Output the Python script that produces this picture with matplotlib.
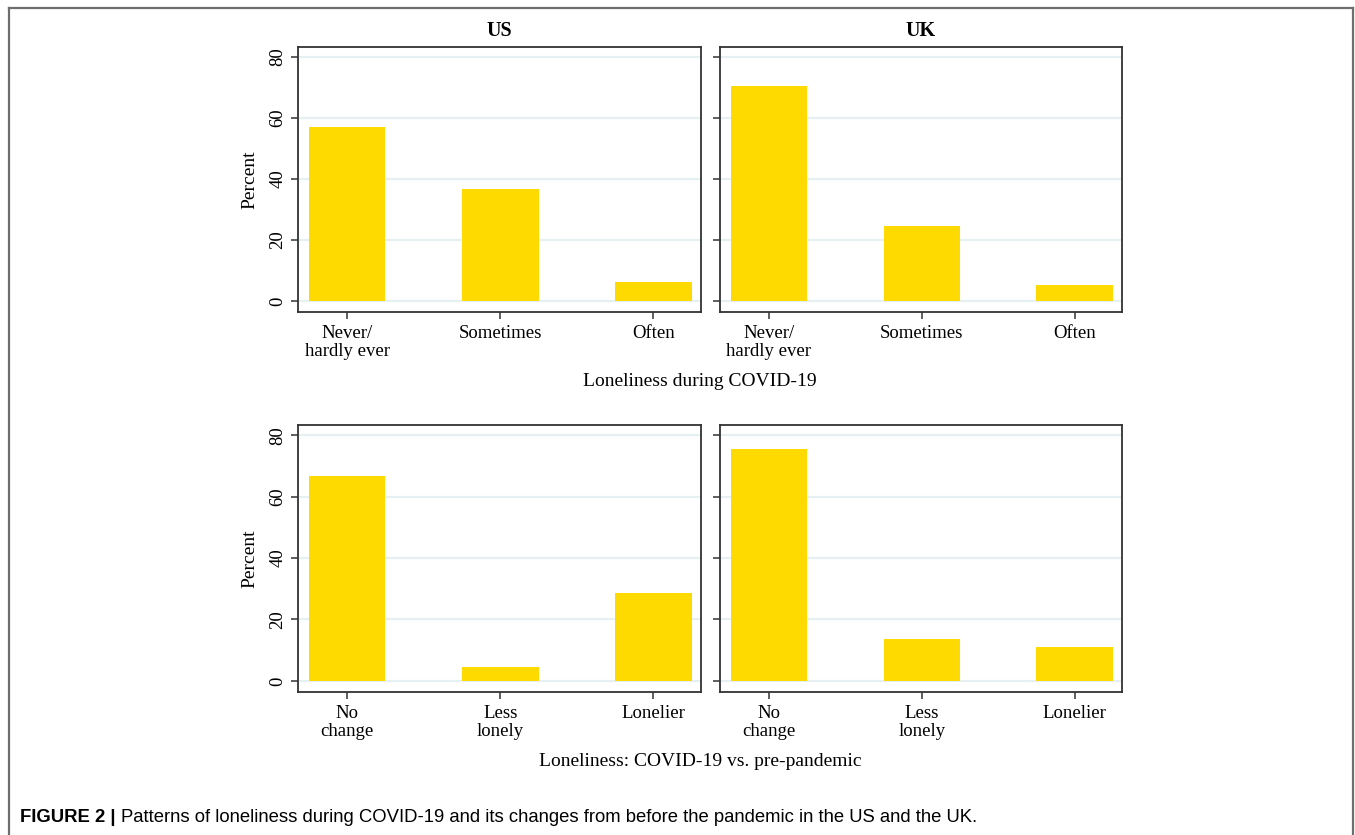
import matplotlib
matplotlib.use("Agg")
import matplotlib.pyplot as plt
from matplotlib.lines import Line2D

plt.rcParams['font.family'] = ['Liberation Serif', 'DejaVu Serif']

# data
during_labels = ["Never/\nhardly ever", "Sometimes", "Often"]
change_labels = ["No\nchange", "Less\nlonely", "Lonelier"]
us_during = [57.0, 36.8, 6.3]
uk_during = [70.4, 24.6, 5.1]
us_change = [66.8, 4.6, 28.7]
uk_change = [75.4, 13.7, 11.1]
countries = ["US", "UK"]

bar_color = "#ffda00"
grid_color = "#e6eff1"
spine_color = "#333333"

fig = plt.figure(figsize=(13.55, 8.35), dpi=100)

W, H = 1355, 835
def box(x0, y0, x1, y1):
    return [x0 / W, 1 - y1 / H, (x1 - x0) / W, (y1 - y0) / H]

panels = [
    (box(298, 47, 701, 312), us_during, during_labels, countries[0], True),
    (box(720, 47, 1122, 312), uk_during, during_labels, countries[1], False),
    (box(298, 425, 701, 692), us_change, change_labels, None, True),
    (box(720, 425, 1122, 692), uk_change, change_labels, None, False),
]

for rect, vals, labels, title, left in panels:
    ax = fig.add_axes(rect)
    x = list(range(len(vals)))
    ax.bar(x, vals, width=0.5, color=bar_color, zorder=2)
    ax.set_xlim(-0.32, 2.31)
    ax.set_ylim(-3.6, 83.3)
    ax.set_yticks([0, 20, 40, 60, 80])
    ax.set_xticks(x)
    ax.set_xticklabels(labels, fontsize=13.5, linespacing=1.15)
    ax.yaxis.grid(True, color=grid_color, linewidth=1.6, zorder=0)
    ax.set_axisbelow(True)
    for s in ax.spines.values():
        s.set_color(spine_color)
        s.set_linewidth(1.3)
    ax.tick_params(axis='both', direction='out', length=5, width=1.1,
                   color=spine_color, labelsize=13.5)
    ax.tick_params(axis='x', pad=4)
    if left:
        ax.set_ylabel("Percent", fontsize=14, labelpad=8)
        for lab in ax.get_yticklabels():
            lab.set_rotation(90)
            lab.set_va('center')
    else:
        ax.set_yticklabels([])
    if title:
        ax.set_title(title, fontsize=14.5, fontweight='bold', pad=8)

fig.text(700 / W, 1 - 381 / H, "Loneliness during COVID-19",
         ha='center', va='center', fontsize=14)
fig.text(700 / W, 1 - 761 / H, "Loneliness: COVID-19 vs. pre-pandemic",
         ha='center', va='center', fontsize=14)

# caption
t1 = fig.text(20 / W, 1 - 817 / H, "FIGURE 2 |", family='Liberation Sans',
              fontweight='bold', fontsize=13.3, ha='left', va='center')
fig.axes[0].annotate("Patterns of loneliness during COVID-19 and its changes from before the pandemic in the US and the UK.",
                     xy=(1, 0.5), xycoords=t1, xytext=(4, 0), textcoords='offset points',
                     family='Liberation Sans', fontsize=13.3, ha='left', va='center',
                     annotation_clip=False)

# outer frame, open at the bottom
fc = "#6e6e6e"
fig.add_artist(Line2D([9 / W, 9 / W], [0, 1 - 8 / H], color=fc, lw=1.6))
fig.add_artist(Line2D([9 / W, 1353 / W], [1 - 8 / H, 1 - 8 / H], color=fc, lw=1.6))
fig.add_artist(Line2D([1353 / W, 1353 / W], [0, 1 - 8 / H], color=fc, lw=1.6))

fig.savefig("out.png", dpi=100)
